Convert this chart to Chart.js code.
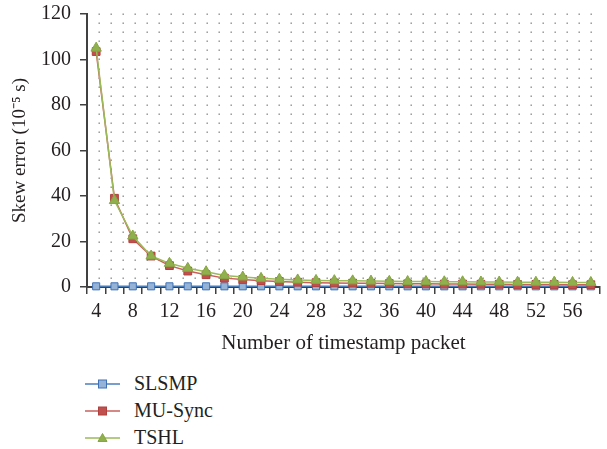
<!DOCTYPE html>
<html>
<head>
<meta charset="utf-8">
<script src="https://cdn.jsdelivr.net/npm/chart.js@4.4.1/dist/chart.umd.min.js"></script>
<style>
  body { margin: 0; background: #fff; }
  #wrap { position: relative; width: 607px; height: 360px; }
  #legend { position: absolute; left: 85px; top: 370px; font-family: "Liberation Serif", serif; font-size: 20px; color: #231f20; }
  .item { display: flex; align-items: center; height: 27px; }
  .item svg { margin-right: 14px; }
</style>
</head>
<body>
<div id="wrap"><canvas id="myChart"></canvas></div>
<div id="legend"></div>
<script>
// number of timestamp packets (x categories)
const packets = [4, 6, 8, 10, 12, 14, 16, 18, 20, 22, 24, 26, 28, 30, 32, 34, 36, 38, 40, 42, 44, 46, 48, 50, 52, 54, 56, 58];
// skew error, 10^-5 s
const slsmp = [0.3, 0.3, 0.3, 0.3, 0.3, 0.3, 0.3, 0.3, 0.3, 0.3, 0.3, 0.3, 0.3, 0.3, 0.3, 0.3, 0.3, 0.3, 0.3, 0.3, 0.3, 0.3, 0.3, 0.3, 0.3, 0.3, 0.3, 0.3];
const muSync = [103.5, 39, 21.2, 13.6, 9.4, 7.0, 5.4, 3.9, 3.3, 2.8, 2.4, 2.1, 1.9, 1.8, 1.7, 1.6, 1.5, 1.4, 1.4, 1.3, 1.3, 1.2, 1.2, 1.1, 1.1, 1.1, 1.0, 1.0];
const tshl = [105, 38, 22.4, 13.6, 10.4, 8.2, 6.7, 5.1, 4.4, 3.8, 3.4, 3.1, 2.9, 2.8, 2.7, 2.6, 2.5, 2.4, 2.4, 2.3, 2.3, 2.2, 2.2, 2.1, 2.1, 2.1, 2.0, 2.0];
const yTicks = [0, 20, 40, 60, 80, 100, 120];

(() => {
  "use strict";

  const font = "'Liberation Serif', 'Times New Roman', serif";
  const axisColor = "#404040";

  const series = [
    { label: "SLSMP", data: slsmp, line: "#4a7ebb", fill: "#95b3d7", border: "#3f72b5", style: "rect", r: 5, order: 2 },
    { label: "MU-Sync", data: muSync, line: "#c9605d", fill: "#c0504d", border: "#b0403d", style: "rect", r: 5.5, order: 1 },
    { label: "TSHL", data: tshl, line: "#9bbb59", fill: "#8fb04c", border: "#86a545", style: "triangle", r: 6, order: 0 },
  ];

  // dotted background grid
  const dotGrid = {
    id: "dotGrid",
    beforeDatasetsDraw(chart) {
      const { ctx, chartArea: a, scales } = chart;
      ctx.save();
      ctx.fillStyle = "#8a8a8a";
      for (let v = 4; v <= 120; v += 4) {
        const y = Math.round(scales.y.getPixelForValue(v));
        for (let x = a.left + 12; x < a.right; x += 12) {
          ctx.fillRect(x - 0.5, y - 0.5, 1.4, 1.4);
        }
      }
      ctx.restore();
    },
  };

  const ctx = document.getElementById("myChart");
  // eslint-disable-next-line no-unused-vars
  const myChart = new Chart(ctx, {
    type: "line",
    data: {
      labels: packets.map(String),
      datasets: series.map((s) => ({
        label: s.label,
        data: s.data,
        order: s.order,
        borderColor: s.line,
        borderWidth: 1.5,
        backgroundColor: s.fill,
        pointStyle: s.style,
        pointRadius: s.r,
        pointBackgroundColor: s.fill,
        pointBorderColor: s.border,
        pointBorderWidth: 1,
        lineTension: 0,
        clip: false,
      })),
    },
    options: {
      responsive: true,
      maintainAspectRatio: false,
      animation: false,
      layout: { padding: { top: 0, right: 0, bottom: 3, left: 0 } },
      plugins: {
        legend: { display: false },
        tooltip: { enabled: false },
      },
      scales: {
        x: {
          offset: true,
          afterFit: (scale) => { scale.height = 70; },
          grid: { display: true, drawOnChartArea: false, drawTicks: true, tickLength: 7, offset: true, color: axisColor, lineWidth: 1.5 },
          border: { color: axisColor, width: 2 },
          ticks: {
            autoSkip: false,
            maxRotation: 0,
            padding: 6,
            color: "#231f20",
            font: { family: font, size: 20 },
            callback: (v, i) => (i % 2 === 0 && i < packets.length - 1 ? packets[i] : ""),
          },
          title: {
            display: true,
            text: "Number of timestamp packet",
            color: "#231f20",
            font: { family: font, size: 21 },
            padding: { top: 6, bottom: 1 },
          },
        },
        y: {
          min: 0,
          max: 120,
          afterFit: (scale) => { scale.width = 87; scale.paddingTop = 14; },
          afterBuildTicks: (scale) => { scale.ticks = yTicks.map((v) => ({ value: v })); },
          grid: { display: true, drawOnChartArea: false, drawTicks: true, tickLength: 7, color: axisColor, lineWidth: 1.5 },
          border: { color: axisColor, width: 2 },
          ticks: {
            padding: 9,
            color: "#231f20",
            font: { family: font, size: 20 },
          },
          title: {
            display: true,
            text: "Skew error (10\u207B\u2075 s)",
            color: "#231f20",
            font: { family: font, size: 19 },
            padding: { top: 9, bottom: 8 },
          },
        },
      },
    },
    plugins: [dotGrid],
  });

  // legend: line with marker, one item per row
  const legend = document.getElementById("legend");
  series.forEach((s) => {
    const marker = s.style === "triangle"
      ? `<polygon points="17.5,1.5 22,9.5 13,9.5" fill="${s.fill}" stroke="${s.border}" stroke-width="1"/>`
      : `<rect x="13.5" y="2" width="8" height="8" fill="${s.fill}" stroke="${s.border}" stroke-width="1"/>`;
    const item = document.createElement("div");
    item.className = "item";
    item.innerHTML =
      `<svg width="35" height="12"><line x1="0" y1="6" x2="35" y2="6" stroke="${s.line}" stroke-width="1.5"/>${marker}</svg>` +
      `<span>${s.label}</span>`;
    legend.appendChild(item);
  });
})();
</script>
</body>
</html>
